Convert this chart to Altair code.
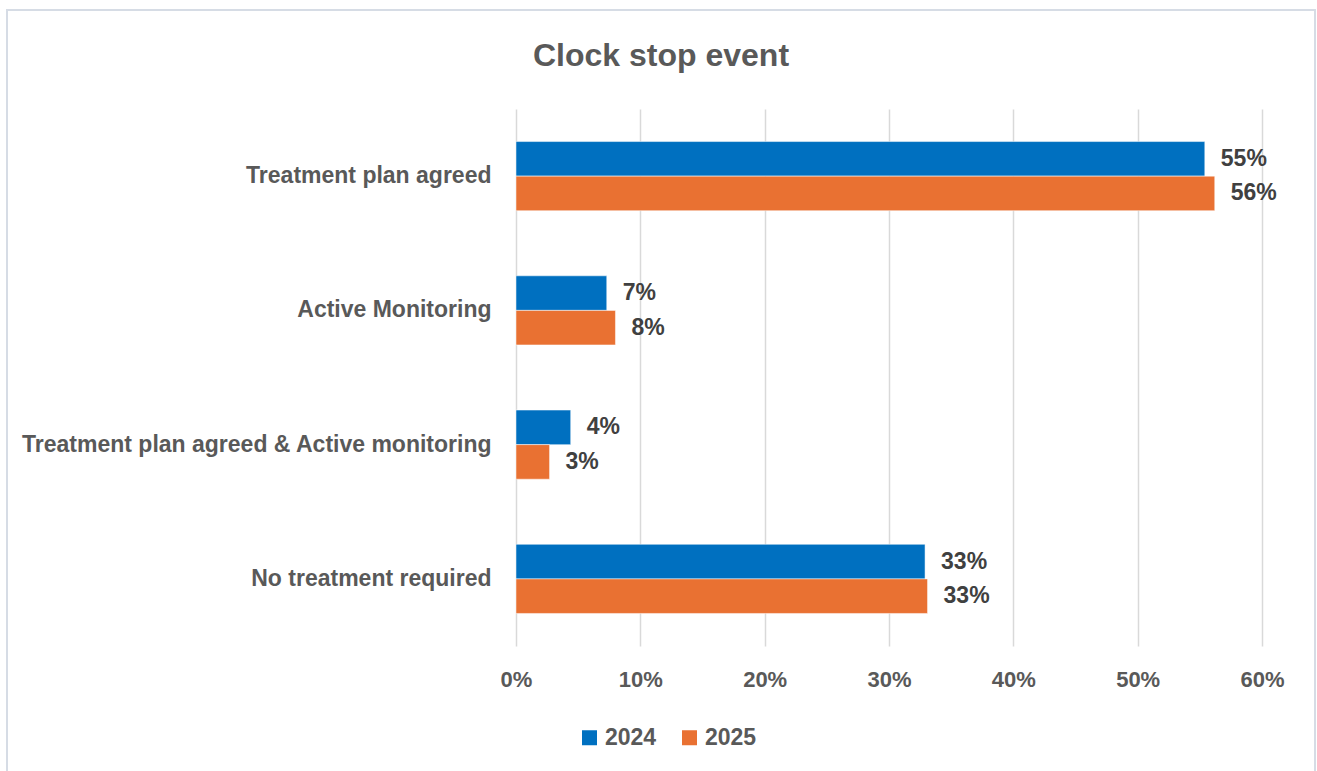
import altair as alt
import pandas as pd

categories = [
    "Treatment plan agreed",
    "Active Monitoring",
    "Treatment plan agreed & Active monitoring",
    "No treatment required",
]
years = ["2024", "2025"]
values_2024 = [0.554, 0.073, 0.044, 0.329]
values_2025 = [0.562, 0.080, 0.027, 0.331]
x_ticks = [0, 0.1, 0.2, 0.3, 0.4, 0.5, 0.6]
chart_title = "Clock stop event"

rows = []
for c, v in zip(categories, values_2024):
    rows.append({"Category": c, "Year": "2024", "Value": v})
for c, v in zip(categories, values_2025):
    rows.append({"Category": c, "Year": "2025", "Value": v})
df = pd.DataFrame(rows)

GREY = "#595959"
LABEL_FONT = "Liberation Sans"

y_enc = alt.Y(
    "Category:N",
    sort=categories,
    scale=alt.Scale(paddingInner=0.485, paddingOuter=0.2425),
    axis=alt.Axis(
        title=None,
        domain=False,
        ticks=False,
        tickSize=0,
        labelPadding=25,
        labelFont=LABEL_FONT,
        labelFontSize=23,
        labelFontWeight="bold",
        labelColor=GREY,
        labelLimit=600,
        grid=False,
    ),
)
x_enc = alt.X(
    "Value:Q",
    scale=alt.Scale(domain=[0, 0.6], nice=False),
    axis=alt.Axis(
        title=None,
        format=".0%",
        values=x_ticks,
        domain=False,
        ticks=False,
        tickSize=0,
        labelFlush=False,
        labelPadding=23,
        labelFont=LABEL_FONT,
        labelFontSize=22,
        labelFontWeight="bold",
        labelColor=GREY,
        grid=True,
        gridColor="#d9d9d9",
        gridWidth=1.5,
    ),
)
yoff = alt.YOffset("Year:N", sort=years, scale=alt.Scale(domain=years, paddingInner=0, paddingOuter=0))

bars = alt.Chart(df).mark_bar(stroke="white", strokeWidth=0.5).encode(
    x=x_enc,
    y=y_enc,
    yOffset=yoff,
    color=alt.Color(
        "Year:N",
        scale=alt.Scale(domain=years, range=["#0070C0", "#E97132"]),
        legend=alt.Legend(
            title=None,
            orient="none",
            direction="horizontal",
            legendX=62,
            legendY=617,
            padding=0,
            symbolType="square",
            symbolSize=225,
            symbolStrokeWidth=0,
            labelFont=LABEL_FONT,
            labelFontSize=23,
            labelFontWeight="bold",
            labelColor=GREY,
            labelOffset=4,
            columnPadding=21,
        ),
    ),
)

labels = alt.Chart(df).mark_text(
    align="left",
    baseline="middle",
    dx=16,
    font=LABEL_FONT,
    fontSize=23,
    fontWeight="bold",
    color="#404040",
).encode(
    x="Value:Q",
    y=alt.Y("Category:N", sort=categories),
    yOffset=alt.YOffset("Year:N", sort=years),
    text=alt.Text("Value:Q", format=".0%"),
)

frame = alt.Chart(pd.DataFrame({"k": [0]})).mark_rect(
    fillOpacity=0, stroke="#d6dce5", strokeWidth=2
).encode(
    x=alt.value(-509),
    x2=alt.value(799),
    y=alt.value(-99),
    y2=alt.value(700),
)

title = alt.Chart(pd.DataFrame({"t": [chart_title]})).mark_text(
    align="center",
    baseline="alphabetic",
    font=LABEL_FONT,
    fontSize=32,
    fontWeight="bold",
    color=GREY,
).encode(
    text="t:N",
    x=alt.value(145),
    y=alt.value(-43),
)

chart = alt.layer(frame, bars, labels, title).properties(
    width=746,
    height=537,
    autosize=alt.AutoSizeParams(type="none"),
    padding={"left": 516, "top": 109, "right": 55, "bottom": 125},
).configure_view(stroke=None)

chart.save("out.html", embed_options={"renderer": "svg", "actions": False})
